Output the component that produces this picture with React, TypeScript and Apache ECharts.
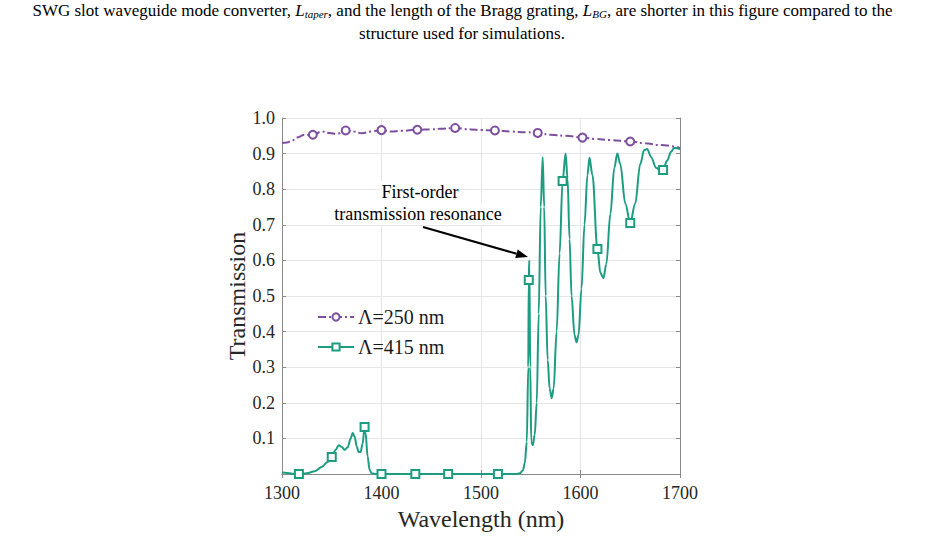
import React, { useEffect, useRef } from "react";
import * as echarts from "echarts";

// Wavelength grid (nm) and transmission for the Λ=250 nm SWG grating
const wl250 = [
  1300, 1305, 1310, 1315, 1322, 1331, 1340, 1348, 1355, 1364, 1372, 1380, 1390,
  1400, 1410, 1420, 1436, 1450, 1460, 1474, 1490, 1500, 1514, 1530, 1545, 1557,
  1570, 1585, 1602, 1615, 1630, 1650, 1665, 1680, 1700,
];
const t250 = [
  0.930, 0.931, 0.936, 0.945, 0.952, 0.953, 0.962, 0.958, 0.955, 0.965, 0.962,
  0.957, 0.962, 0.966, 0.962, 0.964, 0.967, 0.968, 0.970, 0.972, 0.968, 0.966,
  0.965, 0.962, 0.960, 0.958, 0.953, 0.950, 0.945, 0.941, 0.938, 0.934, 0.929,
  0.924, 0.916,
];
const markers250 = [1331, 1364, 1400, 1436, 1474, 1514, 1557, 1602, 1650];

// Wavelength grid (nm) and transmission for the Λ=415 nm SWG grating
const wl415 = [
  1300, 1305, 1310, 1317, 1325, 1333, 1340, 1345, 1350, 1354, 1357, 1360, 1363,
  1366, 1369, 1371, 1373, 1375, 1377, 1379, 1381, 1383, 1384, 1386, 1388, 1390,
  1395, 1400, 1434, 1467, 1500, 1517, 1535, 1539, 1542, 1544, 1546, 1547.5,
  1548, 1548.5, 1549.5, 1550.5, 1552, 1554, 1556, 1558, 1560, 1562, 1563.5,
  1565, 1567, 1569, 1571, 1573, 1576, 1579, 1582, 1585, 1587, 1589, 1591, 1594,
  1596, 1598, 1601, 1604, 1607, 1609, 1612, 1617, 1620, 1623, 1626, 1630, 1634,
  1637, 1640, 1645, 1650, 1655, 1660, 1664, 1667, 1671, 1676, 1681, 1683, 1687,
  1691, 1694, 1697, 1700,
];
const t415 = [
  0.004, 0.003, 0.001, 0.0, 0.002, 0.008, 0.02, 0.032, 0.048, 0.068, 0.081,
  0.076, 0.068, 0.075, 0.1, 0.115, 0.105, 0.078, 0.062, 0.062, 0.085, 0.132,
  0.115, 0.05, 0.012, 0.002, 0.0, 0.0, 0.0, 0.0, 0.0, 0.0, 0.0, 0.002, 0.01,
  0.03, 0.09, 0.3, 0.545, 0.6, 0.3, 0.09, 0.081, 0.11, 0.2, 0.45, 0.75, 0.89,
  0.75, 0.5, 0.32, 0.24, 0.213, 0.24, 0.4, 0.62, 0.823, 0.9, 0.83, 0.66, 0.5,
  0.39, 0.37, 0.39, 0.52, 0.7, 0.84, 0.888, 0.84, 0.632, 0.565, 0.55, 0.59,
  0.73, 0.86, 0.9, 0.87, 0.76, 0.705, 0.76, 0.87, 0.91, 0.913, 0.89, 0.86, 0.85,
  0.854, 0.88, 0.905, 0.916, 0.915, 0.912,
];
const markers415 = [1317, 1350, 1383, 1400, 1434, 1467, 1517, 1548, 1582, 1617, 1650, 1683];

const seriesNames = ["Λ=250 nm", "Λ=415 nm"];
const xTicks = { min: 1300, max: 1700, step: 100 };
const yTicks = { min: 0, max: 1, step: 0.1 };

const FONT = "'Liberation Serif', 'Times New Roman', serif";
const PURPLE = "#7e4f9f";
const GREEN = "#1c9c80";
const AXIS = "#8a8a8a";
const GRID = "#e6e6e6";

function withMarkers(xs: number[], ys: number[], marks: number[], sym: string) {
  return xs.map((x, i) => ({
    value: [x, ys[i]],
    symbol: marks.includes(x) ? sym : "none",
  }));
}

export default function App() {
  const ref = useRef<HTMLDivElement>(null);

  useEffect(() => {
    if (!ref.current) return;
    const chart = echarts.init(ref.current, undefined, { renderer: "svg" });

    const gridBox = { left: 282, right: 245, top: 118, bottom: 63 };
    const tip = [528, 257];
    const tail = [423, 227];
    const dx = tip[0] - tail[0];
    const dy = tip[1] - tail[1];
    const len = Math.hypot(dx, dy);
    const ux = dx / len;
    const uy = dy / len;
    const headL = 12;
    const headW = 4.5;
    const bx = tip[0] - ux * headL;
    const by = tip[1] - uy * headL;

    const hiddenAxis = {
      axisLine: { show: true, lineStyle: { color: AXIS, width: 1 } },
      axisTick: { show: true, inside: true, length: 4, lineStyle: { color: AXIS } },
      axisLabel: { show: false },
      splitLine: { show: false },
    };

    const noteStyle = {
      fontFamily: FONT,
      fontSize: 18,
      fill: "#000",
      align: "center",
      verticalAlign: "middle",
      backgroundColor: "#ffffff",
      padding: [2, 2, 2, 2],
    };

    chart.setOption({
      animation: false,
      backgroundColor: "#ffffff",
      textStyle: { fontFamily: FONT },
      grid: { ...gridBox, containLabel: false },
      legend: {
        orient: "vertical",
        left: 312,
        top: 302,
        itemWidth: 36,
        itemHeight: 9,
        itemGap: 10,
        data: seriesNames,
        textStyle: { fontFamily: FONT, fontSize: 20, color: "#1a1a1a", padding: [0, 0, 0, -1] },
      },
      xAxis: [
        {
          type: "value",
          min: xTicks.min,
          max: xTicks.max,
          interval: xTicks.step,
          axisLine: { show: true, lineStyle: { color: AXIS, width: 1 } },
          axisTick: { show: true, inside: true, length: 4, lineStyle: { color: AXIS } },
          axisLabel: {
            fontFamily: FONT,
            fontSize: 18,
            color: "#262626",
            margin: 10,
            formatter: (v: number) => String(v),
          },
          splitLine: { show: true, lineStyle: { color: GRID, width: 1 } },
        },
        {
          type: "value",
          position: "top",
          min: xTicks.min,
          max: xTicks.max,
          interval: xTicks.step,
          ...hiddenAxis,
        },
      ],
      yAxis: [
        {
          type: "value",
          min: yTicks.min,
          max: yTicks.max,
          interval: yTicks.step,
          axisLine: { show: true, lineStyle: { color: AXIS, width: 1 } },
          axisTick: { show: true, inside: true, length: 4, lineStyle: { color: AXIS } },
          axisLabel: {
            fontFamily: FONT,
            fontSize: 18,
            color: "#262626",
            margin: 7,
            formatter: (v: number) => (v === 0 ? "" : v.toFixed(1)),
          },
          splitLine: { show: true, lineStyle: { color: GRID, width: 1 } },
        },
        {
          type: "value",
          position: "right",
          min: yTicks.min,
          max: yTicks.max,
          interval: yTicks.step,
          ...hiddenAxis,
        },
      ],
      series: [
        {
          name: seriesNames[0],
          type: "line",
          smooth: 0.4,
          smoothMonotone: "x",
          symbol: "emptyCircle",
          symbolSize: 8,
          showAllSymbol: true,
          clip: false,
          itemStyle: { color: PURPLE, borderWidth: 1.5 },
          lineStyle: { color: PURPLE, width: 2, type: [8, 3, 2, 3] },
          data: withMarkers(wl250, t250, markers250, "emptyCircle"),
          z: 3,
        },
        {
          name: seriesNames[1],
          type: "line",
          smooth: 0.35,
          smoothMonotone: "x",
          symbol: "emptyRect",
          symbolSize: 8,
          showAllSymbol: true,
          clip: false,
          itemStyle: { color: GREEN, borderWidth: 1.5 },
          lineStyle: { color: GREEN, width: 2 },
          data: withMarkers(wl415, t415, markers415, "emptyRect"),
          z: 4,
        },
      ],
      graphic: [
        {
          type: "text",
          left: "center",
          top: 2,
          style: {
            text:
              "SWG slot waveguide mode converter, {it|L}{sub|taper}, and the length of the Bragg grating, {it|L}{sub|BG}, are shorter in this figure compared to the",
            fontFamily: FONT,
            fontSize: 17,
            fill: "#000",
            rich: {
              it: { fontFamily: FONT, fontSize: 17, fontStyle: "italic", fill: "#000" },
              sub: {
                fontFamily: FONT,
                fontSize: 11,
                fontStyle: "italic",
                fill: "#000",
                verticalAlign: "bottom",
                padding: [6, 0, 0, 0],
              },
            },
          },
        },
        {
          type: "text",
          x: 462,
          y: 33,
          style: {
            text: "structure used for simulations.",
            fontFamily: FONT,
            fontSize: 17,
            fill: "#000",
            align: "center",
            verticalAlign: "middle",
          },
        },
        {
          type: "text",
          x: 420,
          y: 192,
          z: 9,
          style: { ...noteStyle, text: "First-order" },
        },
        {
          type: "text",
          x: 418,
          y: 214,
          z: 9,
          style: { ...noteStyle, text: "transmission resonance" },
        },
        {
          type: "line",
          shape: { x1: tail[0], y1: tail[1], x2: bx, y2: by },
          style: { stroke: "#000", lineWidth: 2 },
          z: 10,
        },
        {
          type: "polygon",
          shape: {
            points: [
              [tip[0], tip[1]],
              [bx - uy * headW, by + ux * headW],
              [bx + uy * headW, by - ux * headW],
            ],
          },
          style: { fill: "#000" },
          z: 10,
        },
        {
          type: "text",
          x: 481,
          y: 519,
          style: {
            text: "Wavelength (nm)",
            fontFamily: FONT,
            fontSize: 24,
            fill: "#262626",
            align: "center",
            verticalAlign: "middle",
          },
        },
        {
          type: "text",
          x: 237,
          y: 296,
          rotation: Math.PI / 2,
          style: {
            text: "Transmission",
            fontFamily: FONT,
            fontSize: 24,
            fill: "#262626",
            align: "center",
            verticalAlign: "middle",
          },
        },
      ],
    });

    return () => chart.dispose();
  }, []);

  return (
    <div
      ref={ref}
      style={{ position: "fixed", left: 0, top: 0, width: 925, height: 537, background: "#fff" }}
    />
  );
}
